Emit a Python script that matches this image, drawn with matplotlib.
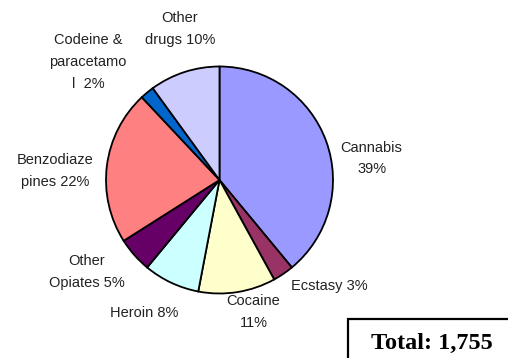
import matplotlib
matplotlib.use("Agg")
import matplotlib.pyplot as plt
from matplotlib.patches import Rectangle

# Drug categories, clockwise from 12 o'clock
labels = [
    "Cannabis\n39%",
    "Ecstasy 3%",
    "Cocaine\n11%",
    "Heroin 8%",
    "Other\nOpiates 5%",
    "Benzodiaze\npines 22%",
    "Codeine &\nparacetamo\nl  2%",
    "Other\ndrugs 10%",
]
shares = [39, 3, 11, 8, 5, 22, 2, 10]
total_label = "Total: 1,755"

colors = ["#9999FF", "#993366", "#FFFFCC", "#CCFFFF",
          "#660066", "#FF8080", "#0066CC", "#CCCCFF"]

# label centres in pie-radius units
label_xy = [(1.34, 0.19), (0.97, -0.93), (0.30, -1.16), (-0.66, -1.17),
            (-1.17, -0.81), (-1.45, 0.08), (-1.16, 1.04), (-0.35, 1.33)]

fig = plt.figure(figsize=(5.08, 3.58), dpi=100)
ax = fig.add_axes([0, 0, 1, 1])

ax.pie(shares, colors=colors, startangle=90, counterclock=False, radius=1.0,
       wedgeprops=dict(edgecolor="black", linewidth=1.3))

for text, (x, y) in zip(labels, label_xy):
    ax.text(x, y, text, ha="center", va="center", fontsize=10.5,
            family="Liberation Sans", color="#222222", linespacing=1.7)

r_px = 113.5
cx, cy = 219.5, 180
ax.set_xlim(-cx / r_px, (508 - cx) / r_px)
ax.set_ylim(-(358 - cy) / r_px, cy / r_px)
ax.set_aspect("auto")
ax.axis("off")

# total box in the lower right corner
fig.patches.append(Rectangle((348 / 508, -0.05), 0.5, (358 - 319) / 358 + 0.05,
                             transform=fig.transFigure, fill=False,
                             edgecolor="black", linewidth=1.6))
fig.text(432 / 508, 1 - 343 / 358, total_label, ha="center", va="center",
         fontsize=17.5, fontweight="bold", family="Liberation Serif")

fig.savefig("out.png", dpi=100)
